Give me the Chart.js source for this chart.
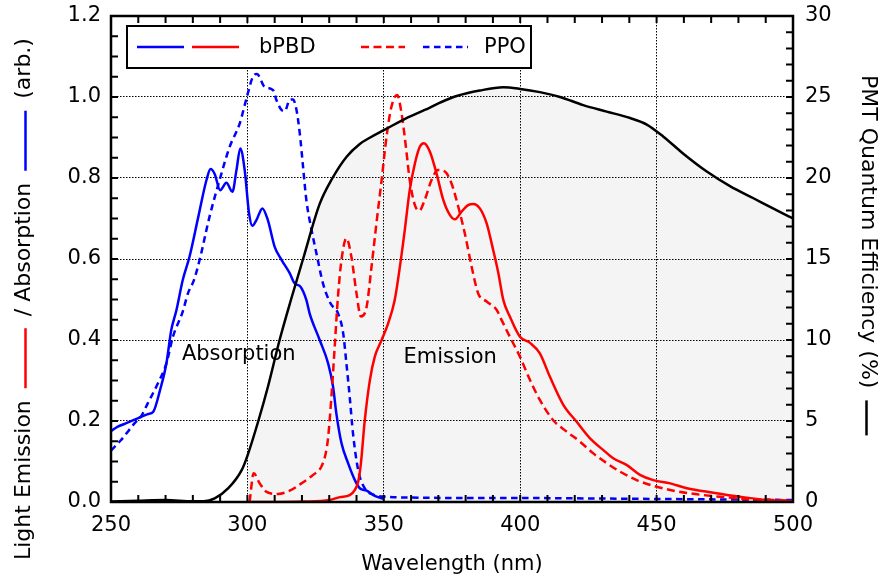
<!DOCTYPE html>
<html><head><meta charset="utf-8">
<script src="https://cdn.jsdelivr.net/npm/chart.js@4"></script>
<style>html,body{margin:0;padding:0;background:#fff;}canvas{display:block}</style>
</head><body>
<canvas id="c" width="881" height="578"></canvas>
<script>
// ---------------- DATA ----------------
const X_TICKS = [250, 300, 350, 400, 450, 500];
const Y_TICKS = [0.0, 0.2, 0.4, 0.6, 0.8, 1.0, 1.2];
const Y2_TICKS = [0, 5, 10, 15, 20, 25, 30];

// bPBD absorption (blue solid)
const absBPBD_wl  = [250, 252.5, 255, 260, 263.5, 265.5, 268, 270.3, 272.1, 274, 276.3, 278.8, 282, 285, 286.5, 288, 290, 292.3, 294.5, 296, 297.4, 299, 300.6, 301.8, 303.3, 305.5, 307.5, 310, 312.5, 315.5, 317.3, 319.4, 321.6, 322.8, 326.5, 329.6, 331.4, 332.6, 334.5, 336.9, 339.4, 341.2, 343.7, 346.7, 350];
const absBPBD_val = [0.175, 0.186, 0.193, 0.207, 0.217, 0.223, 0.277, 0.342, 0.425, 0.474, 0.548, 0.606, 0.704, 0.795, 0.822, 0.81, 0.77, 0.788, 0.766, 0.82, 0.873, 0.82, 0.713, 0.682, 0.696, 0.725, 0.696, 0.63, 0.598, 0.565, 0.54, 0.532, 0.499, 0.466, 0.40, 0.342, 0.285, 0.219, 0.145, 0.096, 0.054, 0.034, 0.028, 0.015, 0.008];

// PPO absorption (blue dashed)
const absPPO_wl  = [250, 253.7, 258.6, 261, 263.5, 267.2, 270.3, 272.7, 276.3, 278.2, 280.4, 282.5, 286.1, 289.8, 293.5, 297.2, 299.8, 302, 303.5, 306.3, 309.4, 310.6, 312.5, 313.7, 315.5, 316.7, 318, 319.2, 320.4, 321.6, 323.5, 325.3, 327.7, 330.5, 333.2, 335.1, 336.3, 337.5, 338.7, 340.6, 343, 346.7, 351, 360, 380, 400, 420, 440, 460, 480, 500];
const absPPO_val = [0.127, 0.153, 0.194, 0.211, 0.244, 0.293, 0.342, 0.408, 0.47, 0.515, 0.548, 0.598, 0.704, 0.795, 0.877, 0.935, 1.0, 1.05, 1.057, 1.025, 1.017, 0.993, 0.968, 0.965, 0.993, 0.994, 0.968, 0.91, 0.828, 0.746, 0.672, 0.614, 0.54, 0.49, 0.466, 0.417, 0.342, 0.26, 0.17, 0.079, 0.034, 0.017, 0.013, 0.011, 0.01, 0.01, 0.009, 0.008, 0.007, 0.006, 0.005];

// bPBD emission (red solid)
const emBPBD_wl  = [300, 310, 320, 330.2, 333.9, 337.5, 339.4, 340.6, 341.6, 343, 344.9, 346.7, 349.2, 351.6, 354, 355.9, 357.7, 359.5, 361.4, 363.2, 364.7, 366.9, 369.3, 371.8, 374.2, 376.1, 378.5, 380.9, 382.8, 385.2, 387.7, 390.1, 392, 393.8, 396.2, 399.9, 403.6, 407.2, 410.9, 415.8, 420.7, 425.6, 430.5, 434.1, 439.1, 443.9, 448.8, 455, 461.1, 470.8, 480.6, 490.4, 500];
const emBPBD_val = [0, 0, 0.001, 0.005, 0.012, 0.017, 0.03, 0.05, 0.095, 0.2, 0.301, 0.359, 0.40, 0.441, 0.499, 0.581, 0.672, 0.77, 0.836, 0.877, 0.886, 0.865, 0.812, 0.746, 0.709, 0.698, 0.717, 0.733, 0.736, 0.725, 0.688, 0.622, 0.565, 0.499, 0.458, 0.408, 0.393, 0.367, 0.309, 0.24, 0.198, 0.157, 0.128, 0.108, 0.091, 0.067, 0.054, 0.046, 0.034, 0.023, 0.013, 0.005, 0.002];

// PPO emission (red dashed)
const emPPO_wl  = [300.8, 302.3, 304.5, 307, 311.2, 315.5, 319.8, 324.1, 327.1, 328.7, 329.6, 330.8, 332, 333.2, 334.5, 336.3, 338.1, 340, 341.6, 343.7, 345.5, 347.3, 349.2, 351, 352.8, 354.9, 356.5, 358.1, 359.5, 361.4, 363, 365, 367.5, 369.9, 372.4, 374.8, 377.3, 379.7, 382.2, 384.6, 387.7, 391.4, 393.2, 396.2, 399.9, 403.6, 407.2, 412.1, 417, 421.9, 426.8, 431.7, 436.6, 442.7, 448.8, 456.2, 464.8, 473.3, 483.1, 492.9, 500];
const emPPO_val = [0, 0.071, 0.046, 0.025, 0.02, 0.028, 0.046, 0.067, 0.087, 0.12, 0.16, 0.26, 0.383, 0.507, 0.598, 0.651, 0.606, 0.515, 0.458, 0.482, 0.581, 0.688, 0.795, 0.902, 0.976, 1.005, 0.96, 0.877, 0.795, 0.733, 0.719, 0.746, 0.795, 0.82, 0.816, 0.787, 0.729, 0.663, 0.581, 0.515, 0.495, 0.474, 0.449, 0.408, 0.359, 0.301, 0.252, 0.202, 0.174, 0.149, 0.12, 0.096, 0.075, 0.054, 0.04, 0.028, 0.019, 0.013, 0.007, 0.005, 0.003];

// PMT quantum efficiency in % (black, right axis)
const qe_wl  = [250, 260, 270, 280, 284, 288, 293, 298, 300, 304, 307.5, 311.8, 316, 320.4, 326.5, 331.2, 336.3, 341.2, 345, 350, 358.3, 365, 370.6, 376.7, 385.2, 393.8, 400, 407.2, 414.6, 423.1, 431.7, 440.3, 446.4, 452.5, 459.8, 468.4, 476.9, 485.5, 494.1, 500];
const qe_val = [0.03, 0.08, 0.12, 0.05, 0.05, 0.22, 0.85, 2.0, 2.85, 5.0, 7.1, 10.0, 12.5, 15.0, 18.4, 20.0, 21.3, 22.1, 22.5, 22.95, 23.7, 24.2, 24.65, 25.06, 25.4, 25.6, 25.5, 25.3, 25.0, 24.5, 24.1, 23.7, 23.3, 22.55, 21.5, 20.4, 19.5, 18.75, 18.0, 17.5];
const QE_FILL_FROM = 300;

const LEGEND_LABELS = ['bPBD', 'PPO'];
const ANNOTATIONS = [{text: 'Absorption', x: 276, y: 0.351}, {text: 'Emission', x: 357.2, y: 0.344}];

// ---------------- CHART ----------------
const FAMILY = '"DejaVu Sans", sans-serif';
const BLUE = '#0000ff', RED = '#ff0000';
const RED_DASH = [8, 4.5], BLUE_DASH = [6.5, 4.5];
const pts = (xs, ys) => xs.map((v, i) => ({x: v, y: ys[i]}));

const fillIdx = qe_wl.map((v, i) => i).filter(i => qe_wl[i] >= QE_FILL_FROM);
const lineDefaults = {pointRadius: 0, borderWidth: 2.5, cubicInterpolationMode: 'monotone', fill: false};

function seg(ctx, x0, y0, x1, y1, color, dash, w) {
  ctx.save(); ctx.beginPath(); ctx.strokeStyle = color; ctx.lineWidth = w || 2.5;
  ctx.setLineDash(dash || []); ctx.moveTo(x0, y0); ctx.lineTo(x1, y1); ctx.stroke(); ctx.restore();
}

const decor = {
  id: 'decor',
  afterDatasetsDraw(chart) {
    const {ctx, chartArea: a, scales: {x, y, y2}} = chart;
    ctx.save();
    // annotations
    ctx.font = '21px ' + FAMILY; ctx.fillStyle = '#000'; ctx.textAlign = 'left'; ctx.textBaseline = 'alphabetic';
    ANNOTATIONS.forEach(t => ctx.fillText(t.text, x.getPixelForValue(t.x), y.getPixelForValue(t.y)));
    // inward ticks
    ctx.strokeStyle = '#000'; ctx.lineWidth = 2; ctx.setLineDash([]);
    ctx.beginPath();
    for (let v = 250; v <= 500.001; v += 10) {
      const p = x.getPixelForValue(v);
      ctx.moveTo(p, a.bottom); ctx.lineTo(p, a.bottom - 7);
      ctx.moveTo(p, a.top); ctx.lineTo(p, a.top + 7);
    }
    for (let i = 0; i <= 24; i++) {
      const p = y.getPixelForValue(i * 0.05);
      ctx.moveTo(a.left, p); ctx.lineTo(a.left + 7, p);
    }
    for (let i = 0; i <= 30; i++) {
      const p = y2.getPixelForValue(i);
      ctx.moveTo(a.right, p); ctx.lineTo(a.right - 7, p);
    }
    ctx.stroke();
    ctx.lineWidth = 2.5;
    ctx.strokeRect(a.left, a.top, a.right - a.left, a.bottom - a.top);

    // legend box
    const L = a.left;
    const bx0 = L + 16, bx1 = L + 420, by0 = a.top + 10, by1 = a.top + 52, ly = a.top + 31;
    ctx.fillStyle = '#fff'; ctx.fillRect(bx0, by0, bx1 - bx0, by1 - by0);
    ctx.lineWidth = 2; ctx.strokeStyle = '#000'; ctx.strokeRect(bx0, by0, bx1 - bx0, by1 - by0);
    seg(ctx, L + 26, ly, L + 73, ly, BLUE);
    seg(ctx, L + 81, ly, L + 128, ly, RED);
    seg(ctx, L + 250, ly, L + 294, ly, RED, RED_DASH);
    seg(ctx, L + 312, ly, L + 357, ly, BLUE, BLUE_DASH);
    ctx.fillStyle = '#000'; ctx.font = '21px ' + FAMILY; ctx.textBaseline = 'middle';
    ctx.fillText(LEGEND_LABELS[0], L + 148, ly + 1);
    ctx.fillText(LEGEND_LABELS[1], L + 373, ly + 1);

    // x title
    ctx.textAlign = 'center'; ctx.textBaseline = 'alphabetic';
    ctx.fillText('Wavelength (nm)', (a.left + a.right) / 2, 570);

    // left title (rotated, reads bottom-to-top)
    ctx.font = '22px ' + FAMILY; ctx.textAlign = 'left'; ctx.textBaseline = 'middle';
    ctx.save(); ctx.translate(24, 560); ctx.rotate(-Math.PI / 2);
    let pos = 0; const gap = 12, lineLen = 60;
    const put = t => { ctx.fillText(t, pos, 0); pos += ctx.measureText(t).width; };
    const ln = c => { pos += gap; seg(ctx, pos, 1.5, pos + lineLen, 1.5, c, [], 2.5); pos += lineLen + gap; };
    put('Light Emission'); ln(RED); put('/ Absorption'); ln(BLUE); put('(arb.)');
    ctx.restore();

    // right title (rotated, reads top-to-bottom)
    ctx.save(); ctx.translate(868, 75); ctx.rotate(Math.PI / 2);
    pos = 0;
    put('PMT Quantum Efficiency (%)');
    pos += 12; seg(ctx, pos, 1.5, pos + 35, 1.5, '#000', [], 2.5);
    ctx.restore();
    ctx.restore();
  }
};

const noPad = s => { s.paddingTop = 0; s.paddingBottom = 0; s.paddingLeft = 0; s.paddingRight = 0; };
const tickFont = {family: FAMILY, size: 21};
new Chart(document.getElementById('c'), {
  type: 'line',
  data: {
    datasets: [
      {label: 'QE fill', data: fillIdx.map(i => ({x: qe_wl[i], y: qe_val[i]})), yAxisID: 'y2', pointRadius: 0, borderWidth: 0, borderColor: 'transparent', backgroundColor: '#f4f4f4', fill: 'origin', cubicInterpolationMode: 'monotone', order: 10},
      {label: 'PPO abs', data: pts(absPPO_wl, absPPO_val), yAxisID: 'y', borderColor: BLUE, borderDash: BLUE_DASH, order: 5, ...lineDefaults},
      {label: 'bPBD abs', data: pts(absBPBD_wl, absBPBD_val), yAxisID: 'y', borderColor: BLUE, order: 4, ...lineDefaults},
      {label: 'PPO em', data: pts(emPPO_wl, emPPO_val), yAxisID: 'y', borderColor: RED, borderDash: RED_DASH, order: 3, ...lineDefaults},
      {label: 'bPBD em', data: pts(emBPBD_wl, emBPBD_val), yAxisID: 'y', borderColor: RED, order: 2, ...lineDefaults},
      {label: 'QE', data: pts(qe_wl, qe_val), yAxisID: 'y2', borderColor: '#000', order: 1, ...lineDefaults}
    ]
  },
  options: {
    responsive: false, animation: false, devicePixelRatio: 1,
    layout: {padding: {top: 16, left: 0, right: 0, bottom: 0}},
    plugins: {legend: {display: false}, tooltip: {enabled: false}, filler: {drawTime: 'beforeDraw'}},
    scales: {
      x: {
        type: 'linear', min: X_TICKS[0], max: X_TICKS[X_TICKS.length - 1],
        afterBuildTicks: s => { s.ticks = X_TICKS.map(v => ({value: v})); },
        ticks: {font: tickFont, color: '#000', padding: 11, maxRotation: 0},
        grid: {drawTicks: false, color: '#000', lineWidth: 1},
        border: {display: false, dash: [1.5, 1.5]},
        afterFit: s => { s.height = 76; noPad(s); }
      },
      y: {
        position: 'left', min: 0, max: 1.2,
        afterBuildTicks: s => { s.ticks = Y_TICKS.map(v => ({value: v})); },
        ticks: {font: tickFont, color: '#000', padding: 10, callback: v => Number(v).toFixed(1)},
        grid: {drawTicks: false, color: '#000', lineWidth: 1},
        border: {display: false, dash: [1.5, 1.5]},
        afterFit: s => { s.width = 111; noPad(s); }
      },
      y2: {
        position: 'right', min: 0, max: 30,
        afterBuildTicks: s => { s.ticks = Y2_TICKS.map(v => ({value: v})); },
        ticks: {font: tickFont, color: '#000', padding: 12},
        grid: {display: false, drawTicks: false},
        border: {display: false},
        afterFit: s => { s.width = 88; noPad(s); }
      }
    }
  },
  plugins: [decor]
});
</script>
</body></html>
